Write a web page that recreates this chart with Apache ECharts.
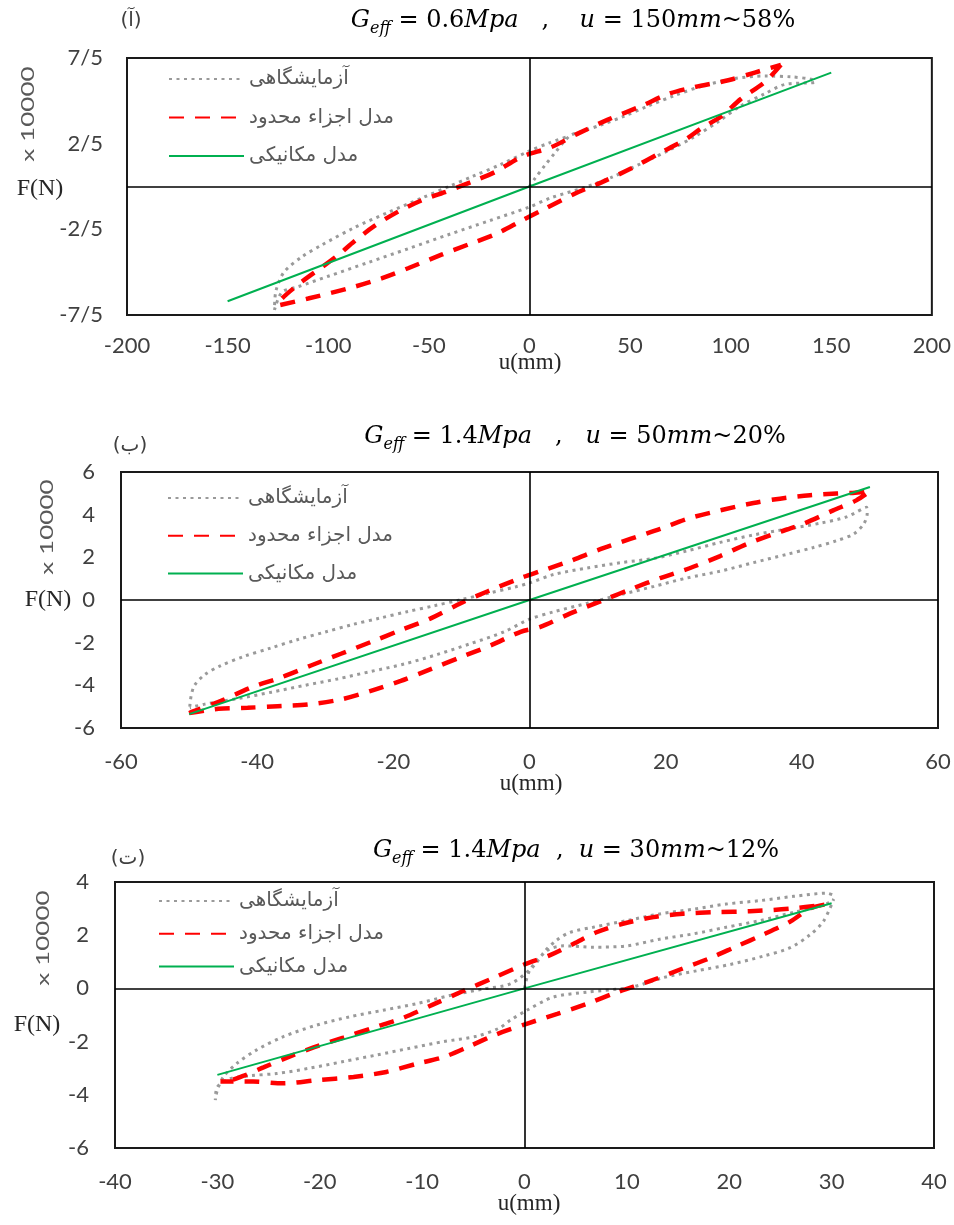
<!DOCTYPE html>
<html><head><meta charset="utf-8">
<script src="https://cdn.jsdelivr.net/npm/echarts@6/dist/echarts.min.js"></script>
<style>html,body{margin:0;padding:0;background:#fff}#c{width:954px;height:1225px}</style>
</head><body><div id="c"></div>
<script>
// ---------- names / labels ----------
const seriesNames = ['آزمایشگاهی', 'مدل اجزاء محدود', 'مدل مکانیکی'];
const panelLetters = ['(آ)', '(ب)', '(ت)'];
const xAxisName = 'u(mm)';
const yAxisName = 'F(N)';
const yScaleNote = 'x 10000';

// axis ranges [min, max, interval]
const p1XAxis = [-200, 200, 50];
const p1YAxis = [-7.5, 7.5, 5];
const p2XAxis = [-60, 60, 20];
const p2YAxis = [-6, 6, 2];
const p3XAxis = [-40, 40, 10];
const p3YAxis = [-6, 4, 2];

// ---------- panel 1 : Geff = 0.6 MPa, u = 150 mm ----------
const p1ExpU = [0, 2.6, 7.5, 12.6, 20, 25.8, 35.8, 47, 59, 72, 85.5, 102, 117, 130, 140, 142, 126.7, 116.8, 105, 94, 82, 69, 55.7, 40.7, 27.3, 10.9, -0.5, -20, -40, -60, -80, -100, -115, -123, -126.7, -126, -122, -113, -103, -87, -70, -54, -40, -28, -14, -0.5, 10, 20];
const p1ExpF = [0, 0.45, 1.2, 1.95, 2.95, 3.2, 3.6, 4.1, 4.7, 5.3, 5.85, 6.3, 6.45, 6.4, 6.26, 6.1, 5.95, 5.4, 4.7, 3.8, 2.9, 2.1, 1.35, 0.53, -0.06, -0.65, -1.22, -2.0, -2.8, -3.62, -4.43, -5.24, -5.85, -6.17, -7.2, -6.1, -5.0, -4.1, -3.4, -2.4, -1.5, -0.7, 0, 0.6, 1.3, 2.05, 2.55, 2.95];
const p1FemU = [125, 117, 105, 95.4, 85.5, 77, 64, 50.7, 35.8, 22.5, 7.6, -4, -17.2, -30.5, -43.7, -60.3, -73.5, -90, -110, -125, -123, -113, -103, -95, -87, -77, -65, -54, -42, -29, -17, -4, 10.9, 24.3, 39, 55.7, 69, 82, 98.8, 112, 125];
const p1FemF = [7.1, 6.1, 5.1, 4.1, 3.4, 2.7, 1.9, 1.06, 0.24, -0.42, -1.3, -2.0, -2.8, -3.39, -3.98, -4.77, -5.36, -5.95, -6.54, -6.95, -6.54, -5.55, -4.7, -4.0, -3.2, -2.3, -1.45, -0.83, -0.33, 0.26, 0.85, 1.73, 2.3, 3.1, 3.9, 4.7, 5.4, 5.8, 6.2, 6.65, 7.1];
const p1MechU = [-150, 0, 150];
const p1MechF = [-6.7, 0, 6.65];

// ---------- panel 2 : Geff = 1.4 MPa, u = 50 mm ----------
const p2ExpU = [-49.9, -49.7, -49.2, -47.7, -45.5, -42, -38, -34, -30, -26, -22, -18, -14, -10, -6, -2, 0, 3.6, 8.5, 13.4, 18.3, 23.1, 28, 32.9, 37.8, 42.7, 46.6, 49.5, 49.6, 49.1, 47.6, 45.1, 41.7, 37.8, 32.9, 28, 23.1, 18.3, 13.4, 8.5, 3.6, 0, -3.8, -8.7, -13.5, -18.4, -23.3, -28.2, -33, -37.9, -42.8, -47.7, -49.9];
const p2ExpF = [-5.0, -4.5, -4.0, -3.5, -3.1, -2.65, -2.25, -1.85, -1.5, -1.15, -0.85, -0.55, -0.27, 0.02, 0.32, 0.62, 0.8, 1.2, 1.5, 1.75, 1.95, 2.3, 2.7, 3.05, 3.33, 3.6, 3.9, 4.35, 4.05, 3.57, 3.09, 2.78, 2.46, 2.14, 1.75, 1.35, 1.03, 0.64, 0.25, -0.15, -0.55, -0.9, -1.5, -2.05, -2.55, -3.0, -3.35, -3.7, -4.0, -4.32, -4.62, -4.88, -5.05];
const p2FemU = [-50, -45.7, -41.4, -37, -32.6, -27.7, -23.3, -18.9, -14.5, -10.1, -5.7, -1.3, 1.6, 6, 10.9, 15.3, 19.2, 23.6, 28, 31.9, 35.8, 40.2, 44.6, 48, 50, 47.5, 45.1, 41.2, 36.8, 32.9, 28, 23.1, 19.2, 14.8, 10.4, 6, 1.6, -1.3, -6.2, -10.1, -14.5, -18.9, -23.3, -27.7, -32.1, -36.5, -40.9, -45.3, -49.2, -50];
const p2FemF = [-5.3, -5.1, -5.05, -4.98, -4.9, -4.66, -4.26, -3.79, -3.24, -2.68, -2.13, -1.49, -1.26, -0.63, 0, 0.56, 1.03, 1.5, 2.06, 2.62, 3.09, 3.57, 4.2, 4.67, 5.1, 5.02, 4.99, 4.91, 4.75, 4.55, 4.2, 3.8, 3.33, 2.86, 2.38, 1.83, 1.35, 1.03, 0.4, -0.15, -0.86, -1.41, -1.97, -2.52, -3.07, -3.63, -4.1, -4.73, -5.2, -5.3];
const p2MechU = [-50, 0, 50];
const p2MechF = [-5.35, 0, 5.3];

// ---------- panel 3 : Geff = 1.4 MPa, u = 30 mm ----------
const p3ExpU = [0, 0.5, 2.2, 3.8, 6.7, 10, 13.2, 16.5, 19.7, 23, 26.3, 28.5, 29.8, 30.2, 29.2, 27.9, 25.9, 23.3, 20.1, 16.8, 13.6, 10.5, 6.1, 2.8, 0.2, -1.4, -2.5, -4.7, -7.9, -11.2, -14.4, -17.7, -21, -24.2, -26.8, -28.8, -30, -30.2, -30, -29.4, -28.1, -26.2, -23.6, -20.3, -17.1, -13.8, -10.5, -7.3, -4, -1.4, 0.8, 2, 3.1, 4.4, 6.7, 10, 13.2, 16.5, 19.7, 23, 26.3, 29.5, 30.2];
const p3ExpF = [0, 0.67, 1.42, 1.6, 1.55, 1.6, 1.85, 2.05, 2.3, 2.55, 2.86, 3.05, 3.23, 3.35, 2.52, 2.02, 1.52, 1.21, 0.9, 0.66, 0.41, 0.05, -0.14, -0.33, -0.83, -1.2, -1.5, -1.8, -2.0, -2.25, -2.5, -2.75, -3.0, -3.2, -3.28, -3.4, -3.7, -4.2, -3.82, -3.32, -2.82, -2.32, -1.82, -1.38, -1.07, -0.82, -0.57, -0.27, -0.02, 0.17, 0.8, 1.4, 1.8, 2.1, 2.3, 2.55, 2.8, 2.98, 3.17, 3.3, 3.46, 3.58, 3.5];
const p3FemU = [29.3, 27.9, 26, 23.3, 20.7, 18.2, 15.2, 12.3, 9, 6.1, 3.2, 0.2, -2.7, -5.3, -7.9, -10.5, -13.5, -16.7, -20.3, -23.6, -26.5, -29.7, -29.4, -27.4, -25.5, -23.2, -20.6, -17.7, -14.8, -11.8, -8.9, -6, -3, 0, 2.5, 4.8, 7.1, 9.6, 12.6, 15.5, 18.8, 22, 26, 29.3];
const p3FemF = [3.15, 3.01, 2.52, 2.02, 1.58, 1.15, 0.71, 0.28, -0.15, -0.58, -0.96, -1.33, -1.72, -2.16, -2.58, -2.83, -3.14, -3.33, -3.45, -3.57, -3.5, -3.5, -3.5, -3.28, -2.97, -2.6, -2.22, -1.85, -1.48, -1.1, -0.6, -0.1, 0.4, 0.9, 1.25, 1.68, 2.12, 2.43, 2.68, 2.81, 2.87, 2.9, 3.0, 3.15];
const p3MechU = [-30, 0, 30];
const p3MechF = [-3.25, 0, 3.2];

// ---------- build ----------
const zip = (u, f) => u.map((x, i) => [x, f[i]]);
const panels = [
  {x: p1XAxis, y: p1YAxis, exp: zip(p1ExpU, p1ExpF), fem: zip(p1FemU, p1FemF), mech: zip(p1MechU, p1MechF),
   grid: {left: 127, top: 58, width: 806, height: 257}, labelMarginX: 20, labelMarginY: 24,
   legend: {left: 168, top: 69, itemGap: 18.5},
   title: {x: 573, y: 21, t: '{i|G}{s|eff}{n| = 0.6}{i|Mpa}{n|   ,    }{i|u}{n| = 150}{i|mm}{n|~58%}'},
   letter: {x: 131, y: 21}, fn: {x: 40, y: 189}, note: {x: 28, y: 114}, uname: {x: 530, y: 363}},
  {x: p2XAxis, y: p2YAxis, exp: zip(p2ExpU, p2ExpF), fem: zip(p2FemU, p2FemF), mech: zip(p2MechU, p2MechF),
   grid: {left: 121, top: 472, width: 817, height: 256}, labelMarginX: 23, labelMarginY: 26,
   legend: {left: 167, top: 488, itemGap: 17.7},
   title: {x: 575, y: 437, t: '{i|G}{s|eff}{n| = 1.4}{i|Mpa}{n|   ,   }{i|u}{n| = 50}{i|mm}{n|~20%}'},
   letter: {x: 130, y: 446}, fn: {x: 48, y: 600}, note: {x: 47, y: 527}, uname: {x: 531, y: 784}},
  {x: p3XAxis, y: p3YAxis, exp: zip(p3ExpU, p3ExpF), fem: zip(p3FemU, p3FemF), mech: zip(p3MechU, p3MechF),
   grid: {left: 115, top: 882, width: 819, height: 266}, labelMarginX: 23, labelMarginY: 26,
   legend: {left: 158, top: 891, itemGap: 12.7},
   title: {x: 576, y: 851, t: '{i|G}{s|eff}{n| = 1.4}{i|Mpa}{n|  ,  }{i|u}{n| = 30}{i|mm}{n|~12%}'},
   letter: {x: 128, y: 859}, fn: {x: 37, y: 1025}, note: {x: 43, y: 938}, uname: {x: 529, y: 1204}}
];

const tickFont = {fontFamily: 'Lato', fontSize: 22, color: '#404040'};
const grayStyle = {color: '#9a9a9a', width: 3, type: [3, 4.5], cap: 'butt'};
const redStyle = {color: '#ff0000', width: 4.5, type: [15, 11], cap: 'butt'};
const greenStyle = {color: '#00b050', width: 2, type: 'solid'};

const option = {
  backgroundColor: '#fff',
  animation: false,
  grid: [], xAxis: [], yAxis: [], series: [], legend: [], graphic: []
};
const rich = {
  i: {fontFamily: 'DejaVu Serif', fontStyle: 'italic', fontSize: 24, color: '#000', lineHeight: 32},
  s: {fontFamily: 'DejaVu Serif', fontStyle: 'italic', fontSize: 16, color: '#000', lineHeight: 13, verticalAlign: 'bottom'},
  n: {fontFamily: 'DejaVu Serif', fontSize: 24, color: '#000', lineHeight: 32}
};

panels.forEach((p, k) => {
  option.grid.push(Object.assign({show: true, borderColor: '#1a1a1a', borderWidth: 2, backgroundColor: '#fff', containLabel: false}, p.grid));
  option.xAxis.push({
    type: 'value', gridIndex: k, min: p.x[0], max: p.x[1], interval: p.x[2],
    axisLine: {show: false}, axisTick: {show: false}, splitLine: {show: false},
    axisLabel: Object.assign({margin: p.labelMarginX, showMinLabel: true, showMaxLabel: true, hideOverlap: false}, tickFont)
  });
  option.yAxis.push({
    type: 'value', gridIndex: k, min: p.y[0], max: p.y[1], interval: p.y[2],
    axisLine: {show: false}, axisTick: {show: false}, splitLine: {show: false},
    axisLabel: Object.assign({margin: p.labelMarginY, showMinLabel: true, showMaxLabel: true, hideOverlap: false,
      formatter: v => String(v).replace('.', '/')}, tickFont)
  });
  // zero axes
  option.series.push({
    type: 'line', xAxisIndex: k, yAxisIndex: k, data: [], silent: true, z: 1,
    markLine: {silent: true, symbol: ['none', 'none'], animation: false, label: {show: false},
      lineStyle: {color: '#000', width: 1.6, type: 'solid'},
      data: [{xAxis: 0}, {yAxis: 0}]}
  });
  option.series.push({name: seriesNames[0], type: 'line', xAxisIndex: k, yAxisIndex: k, data: p.exp,
    showSymbol: false, symbol: 'none', smooth: 0.3, lineStyle: grayStyle, itemStyle: {color: grayStyle.color}, z: 2});
  option.series.push({name: seriesNames[1], type: 'line', xAxisIndex: k, yAxisIndex: k, data: p.fem,
    showSymbol: false, symbol: 'none', smooth: 0.3, lineStyle: redStyle, itemStyle: {color: redStyle.color}, z: 3});
  option.series.push({name: seriesNames[2], type: 'line', xAxisIndex: k, yAxisIndex: k, data: p.mech,
    showSymbol: false, symbol: 'none', lineStyle: greenStyle, itemStyle: {color: greenStyle.color}, z: 4});
  option.legend.push({
    data: seriesNames, orient: 'vertical', left: p.legend.left, top: p.legend.top, itemGap: p.legend.itemGap,
    itemWidth: 75, itemHeight: 16, selectedMode: false, padding: 0,
    itemStyle: {opacity: 0, borderWidth: 0, color: 'rgba(0,0,0,0)'},
    textStyle: {fontFamily: 'DejaVu Sans', fontSize: 20, color: '#595959', lineHeight: 20}
  });
  option.graphic.push(
    {type: 'text', x: p.title.x, y: p.title.y, style: {text: p.title.t, rich: rich, align: 'center', verticalAlign: 'middle', textAlign: 'center', textVerticalAlign: 'middle'}},
    {type: 'text', x: p.letter.x, y: p.letter.y, style: {text: panelLetters[k], font: '20px "DejaVu Sans"', fill: '#404040', align: 'center', verticalAlign: 'middle', textAlign: 'center', textVerticalAlign: 'middle'}},
    {type: 'text', x: p.fn.x, y: p.fn.y, style: {text: yAxisName, font: '24px "Liberation Serif"', fill: '#262626', align: 'center', verticalAlign: 'middle', textAlign: 'center', textVerticalAlign: 'middle'}},
    {type: 'text', x: p.note.x, y: p.note.y, rotation: Math.PI / 2, scaleX: 1.45, style: {text: yScaleNote, font: '18px Lato', fill: '#595959', align: 'center', verticalAlign: 'middle', textAlign: 'center', textVerticalAlign: 'middle'}},
    {type: 'text', x: p.uname.x, y: p.uname.y, style: {text: xAxisName, font: '23px "Liberation Serif"', fill: '#262626', align: 'center', verticalAlign: 'middle', textAlign: 'center', textVerticalAlign: 'middle'}}
  );
});

const chart = echarts.init(document.getElementById('c'), null, {renderer: 'canvas', width: 954, height: 1225});
chart.setOption(option);
</script>
</body></html>
